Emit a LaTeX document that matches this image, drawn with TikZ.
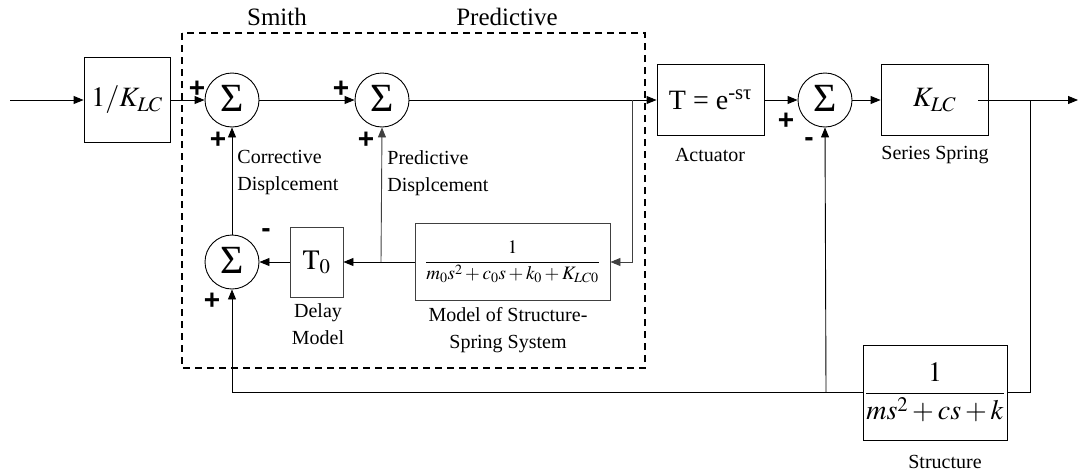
\documentclass[tikz,border=0pt]{standalone}
\usepackage{amsmath}
\usepackage{mathptmx}
\usepackage{fontspec}
\setmainfont{Liberation Serif}
\newfontfamily\sgnfont{Liberation Sans}
\usetikzlibrary{arrows.meta}
\newcommand{\sumsym}{\raisebox{3pt}{Σ}}
\begin{document}
\begin{tikzpicture}[x=1pt,y=-1pt, line width=0.9pt,
  >={Triangle[length=10pt,width=8pt]},
  blk/.style={draw, rectangle, inner sep=0pt},
  inner/.style={draw=black!75},
  sumn/.style={draw, circle, minimum size=54pt, inner sep=0pt, font=\fontsize{40}{40}\selectfont},
  lbl/.style={font=\fontsize{20}{27}\selectfont, align=center, inner sep=0pt},
  lbll/.style={font=\fontsize{20}{27}\selectfont, align=left, inner sep=0pt, anchor=west},
  ttl/.style={font=\fontsize{25}{27}\selectfont, inner sep=0pt},
  sg/.style={font=\sgnfont\bfseries\fontsize{28}{28}\selectfont, inner sep=0pt},
  big/.style={font=\fontsize{28}{30}\selectfont}]
\useasboundingbox (0,0) rectangle (1078,474);

% dashed box
\draw[dashed, dash pattern=on 7pt off 5pt, line width=1.2pt] (182,33) rectangle (645,368);
\node[ttl] (tsmith) at (277,17) {Smith};
\node[ttl] (tpred) at (507,17) {Predictive};

% blocks
\coordinate (in) at (10,100);
\node[blk, big, minimum width=86pt, minimum height=85pt] (kinv) at (127,100) {$1/K_{LC}$};
\node[sumn] (s1) at (232,100) {\sumsym};
\node[sumn] (s2) at (382,100) {\sumsym};
\node[blk, big, minimum width=107pt, minimum height=71pt] (act) at (710.5,100) {T = e\textsuperscript{-sτ}};
\node[sumn] (s3) at (825,100) {\sumsym};
\node[blk, big, minimum width=107pt, minimum height=71pt] (klc) at (934.5,100) {$K_{LC}$};
\node[blk, font=\fontsize{28}{30}\selectfont, minimum width=144pt, minimum height=95pt] (struct) at (935,392.5) {$\dfrac{1}{ms^2+cs+k}$};
\node[sumn] (s4) at (232,262) {\sumsym};
\node[blk, inner, big, minimum width=53pt, minimum height=70pt] (t0) at (316.5,262) {$\mathrm{T}_0$};
\node[blk, inner, font=\fontsize{19}{21}\selectfont, minimum width=195pt, minimum height=77pt] (model) at (512.5,262) {$\dfrac{1}{m_0s^2+c_0s+k_0+K_{LC0}}$};
\coordinate (out) at (1078,100);

% labels
\node[lbll] (lcorr) at (237,173) {Corrective\\Displcement};
\node[lbll] (lpred) at (387,173) {Predictive\\Displcement};
\node[lbl] (lact) at (710,155) {Actuator};
\node[lbl] (lss) at (935,155) {Series Spring};
\node[lbl] (lstr) at (945,462) {Structure};
\node[lbl] (ldel) at (318,324) {Delay\\Model};
\node[lbl] (lmod) at (508,330) {Model of Structure-\\Spring System};

% signs
\node[sg] (p1) at (197,89) {+};
\node[sg] (p1b) at (218,140) {+};
\node[sg] (p2) at (341,89) {+};
\node[sg] (p2b) at (366,140) {+};
\node[sg] (p3) at (786,121) {+};
\node[sg] (m3) at (809,142) {-};
\node[sg] (m4) at (266,233) {-};
\node[sg] (p4) at (212,301) {+};

% connectors
\coordinate (b1) at (632,100);
\coordinate (b1d) at (632,262);
\coordinate (b2) at (381,262);
\coordinate (klco) at (978,100);
\coordinate (b3) at (1030,100);
\coordinate (b3d) at (1030,392);
\coordinate (b4) at (826,392);
\coordinate (b5) at (232,392);

\draw[->] (in) -- (kinv.west);
\draw[->] (kinv.east) -- (s1.west);
\draw[->] (s1.east) -- (s2.west);
\draw[->] (s2.east) -- (act.west);
\draw[->, black!75] (b1) -- (b1d) -- (model.east);
\draw[->] (model.west) -- (t0.east);
\draw[->, black!75] (b2) -- (s2.south);
\draw[->] (t0.west) -- (s4.east);
\draw[->] (s4.north) -- (s1.south);
\draw[->] (act.east) -- (s3.west);
\draw[->] (s3.east) -- (klc.west);
\draw[->] (klco) -- (out);
\draw (b3) -- (b3d) -- (struct.east |- b3d);
\draw (struct.west |- b3d) -- (b5);
\draw[->] (b5) -- (s4.south);
\draw[->] (b4) -- (s3.south);
\end{tikzpicture}
\end{document}
